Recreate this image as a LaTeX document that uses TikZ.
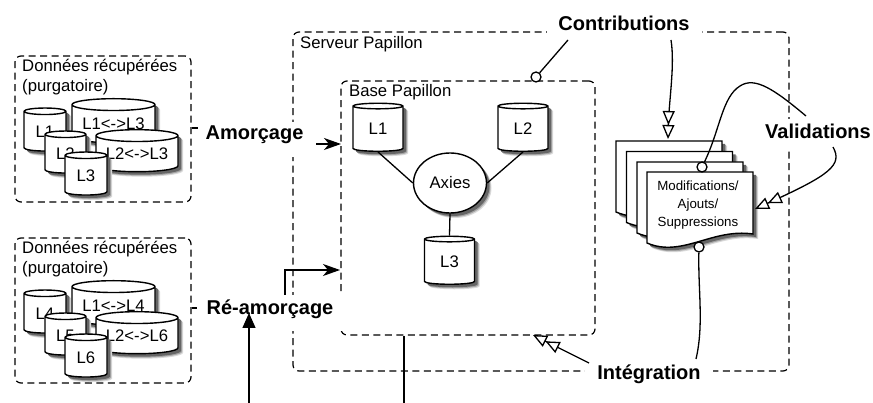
\documentclass[tikz,border=0pt]{standalone}
\usepackage{fontspec}
\setmainfont{Liberation Sans}
\usetikzlibrary{shapes.geometric,arrows.meta}
\tikzset{
  softshadow/.style={
    preaction={fill=black!15,draw=none,transform canvas={xshift=5pt,yshift=-5pt}},
    preaction={fill=black!35,draw=none,transform canvas={xshift=4pt,yshift=-4pt}},
    preaction={fill=black!60,draw=none,transform canvas={xshift=3pt,yshift=-3pt}}},
  zone/.style={draw,dashed,dash pattern=on 7pt off 4.5pt,rounded corners=6pt,line width=1.2pt,inner sep=0pt},
  title/.style={inner sep=0pt,font=\fontsize{16.7}{20}\selectfont,align=left,anchor=north west},
  cyl/.style={cylinder,shape border rotate=90,draw,fill=white,line width=1.4pt,inner sep=0pt,
     font=\fontsize{16.7}{20}\selectfont,softshadow},
  bold label/.style={fill=white,inner sep=0pt,font=\fontsize{20}{24}\selectfont\bfseries},
  conn/.style={line width=1.3pt},
  ball/.style={circle,draw,fill=white,line width=1.3pt,minimum size=10pt,inner sep=0pt},
  sheet/.style={draw,fill=white,line width=1.4pt,softshadow},
  barb/.style={conn,-{Stealth[length=17pt,width=12pt,inset=5pt]}},
  twoopen/.style={conn,-{Triangle[open,fill=white,length=14pt,width=12pt,sep=0pt]Triangle[open,fill=white,length=14pt,width=12pt,sep=0pt]}}
}
\newcommand{\sheetpath}[2]{% left x, top y
  \path[sheet,shift={(#1,#2)}] (0,0) -- (106,0) -- (106,62) .. controls (65,56) and (35,86) .. (0,71) -- cycle;}
\begin{document}
\begin{tikzpicture}[x=1pt,y=-1pt]
\useasboundingbox (0,0) rectangle (873,403);

% zones
\node[zone,minimum width=176pt,minimum height=146pt] (purg1) at (103,129) {};
\node[zone,minimum width=176pt,minimum height=145pt] (purg2) at (103,310.5) {};
\node[zone,minimum width=496pt,minimum height=339pt] (serv) at (541,201.5) {};
\node[zone,minimum width=254pt,minimum height=254pt] (base) at (468,208) {};
\node[title] (purg1t) at (22,59) {Données récupérées\\(purgatoire)};
\node[title] (purg2t) at (22,241) {Données récupérées\\(purgatoire)};
\node[title] (servt) at (300,36) {Serveur Papillon};
\node[title] (baset) at (349,84) {Base Papillon};

% recovered data, first group
\node[cyl,minimum width=42pt,minimum height=43pt,aspect=.35] (a1) at (45,131.5) {L1};
\node[cyl,minimum width=83pt,minimum height=44pt,aspect=.19] (a13) at (113.5,124) {L1<->L3};
\node[cyl,minimum width=41pt,minimum height=42pt,aspect=.35] (a2) at (65.5,154) {L2};
\node[cyl,minimum width=82pt,minimum height=42pt,aspect=.19] (a23) at (137,154) {L2<->L3};
\node[cyl,minimum width=42pt,minimum height=43pt,aspect=.35] (a3) at (86,175.5) {L3};

% recovered data, second group
\node[cyl,minimum width=42pt,minimum height=43pt,aspect=.35] (b1) at (45,313.5) {L4};
\node[cyl,minimum width=83pt,minimum height=44pt,aspect=.19] (b13) at (113.5,306) {L1<->L4};
\node[cyl,minimum width=41pt,minimum height=42pt,aspect=.35] (b2) at (65.5,336) {L5};
\node[cyl,minimum width=82pt,minimum height=42pt,aspect=.19] (b23) at (137,336) {L2<->L6};
\node[cyl,minimum width=42pt,minimum height=43pt,aspect=.35] (b3) at (86,357.5) {L6};

% base
\node[cyl,minimum width=50pt,minimum height=48pt,aspect=.3] (l1) at (378,129) {L1};
\node[cyl,minimum width=50pt,minimum height=48pt,aspect=.3] (l2) at (523,129) {L2};
\node[cyl,minimum width=50pt,minimum height=48pt,aspect=.3] (l3) at (449.5,262) {L3};
\node[ellipse,draw,fill=white,line width=1.4pt,minimum width=73pt,minimum height=60pt,inner sep=0pt,
      font=\fontsize{16.7}{20}\selectfont,softshadow] (ax) at (450,183) {Axies};
\draw[conn] (l1.bottom) -- (ax.west);
\draw[conn] (l2.bottom) -- (ax.east);
\draw[conn] (ax.south) -- (l3.top);

% stacked documents
\sheetpath{616}{141}
\sheetpath{626.5}{151.5}
\sheetpath{637}{162}
\sheetpath{647}{172}
\node[inner sep=0pt,align=center,font=\fontsize{13.3}{18}\selectfont] (doc) at (698,205) {Modifications/\\Ajouts/\\Suppressions};
\coordinate (docin) at (668,139);
\coordinate (docval) at (755,209);

% bold labels
\node[bold label,minimum width=113pt,text height=18pt,text depth=17pt] (amor) at (254.5,139.5) {Amorçage};
\node[bold label,minimum width=146pt,text height=20pt,text depth=16pt] (ream) at (270,313) {Ré-amorçage};
\node[bold label,minimum width=155pt,text height=21pt,text depth=11pt] (contr) at (624,26) {Contributions};
\node[bold label,minimum width=116pt,text height=19pt,text depth=12pt] (valid) at (818,135) {Validations};
\node[bold label,minimum width=128pt,text height=19pt,text depth=17pt] (integ) at (649,378) {Intégration};

% balls
\node[ball] (bbase) at (536,77) {};
\node[ball] (bdoc1) at (702,167) {};
\node[ball] (bdoc2) at (699,247) {};

% connectors
\coordinate (c1s) at (568,40);
\coordinate (c2s) at (671,40);
\coordinate (v1s) at (806,116);
\coordinate (v2s) at (833,147);
\coordinate (i1s) at (696,359);
\coordinate (i2s) at (589,363);
\coordinate (am1) at (198,128);
\coordinate (am2) at (316,144);
\coordinate (amt) at (341,144);
\coordinate (re1) at (197,308);
\coordinate (re2) at (285,295);
\coordinate (ret) at (340,270);
\coordinate (inb) at (249,403);
\coordinate (intip) at (249,313);
\coordinate (ex) at (404,403);
\coordinate (intt) at (533,335);

\draw[conn] (purg1.east |- am1) -- (am1);
\draw[conn] (purg2.east |- re1) -- (re1);
\draw[barb] (am2) -- (amt);
\draw[barb] (re2) |- (ret);
\draw[conn,-{Triangle[length=15pt,width=13pt]}] (inb) -- (intip);
\draw[conn] (base.south -| ex) -- (ex);
\draw[conn] (c1s) -- (bbase);
\draw[twoopen] (c2s) .. controls (675,65) and (669,100) .. (docin);
\draw[conn] (v1s) .. controls (775,90) and (755,76) .. (740,86) .. controls (722,97) and (720,130) .. (bdoc1);
\draw[twoopen] (v2s) .. controls (843,165) and (830,175) .. (docval);
\draw[conn] (bdoc2) .. controls (698,290) and (704,325) .. (i1s);
\draw[twoopen] (i2s) -- (intt);
\end{tikzpicture}
\end{document}
